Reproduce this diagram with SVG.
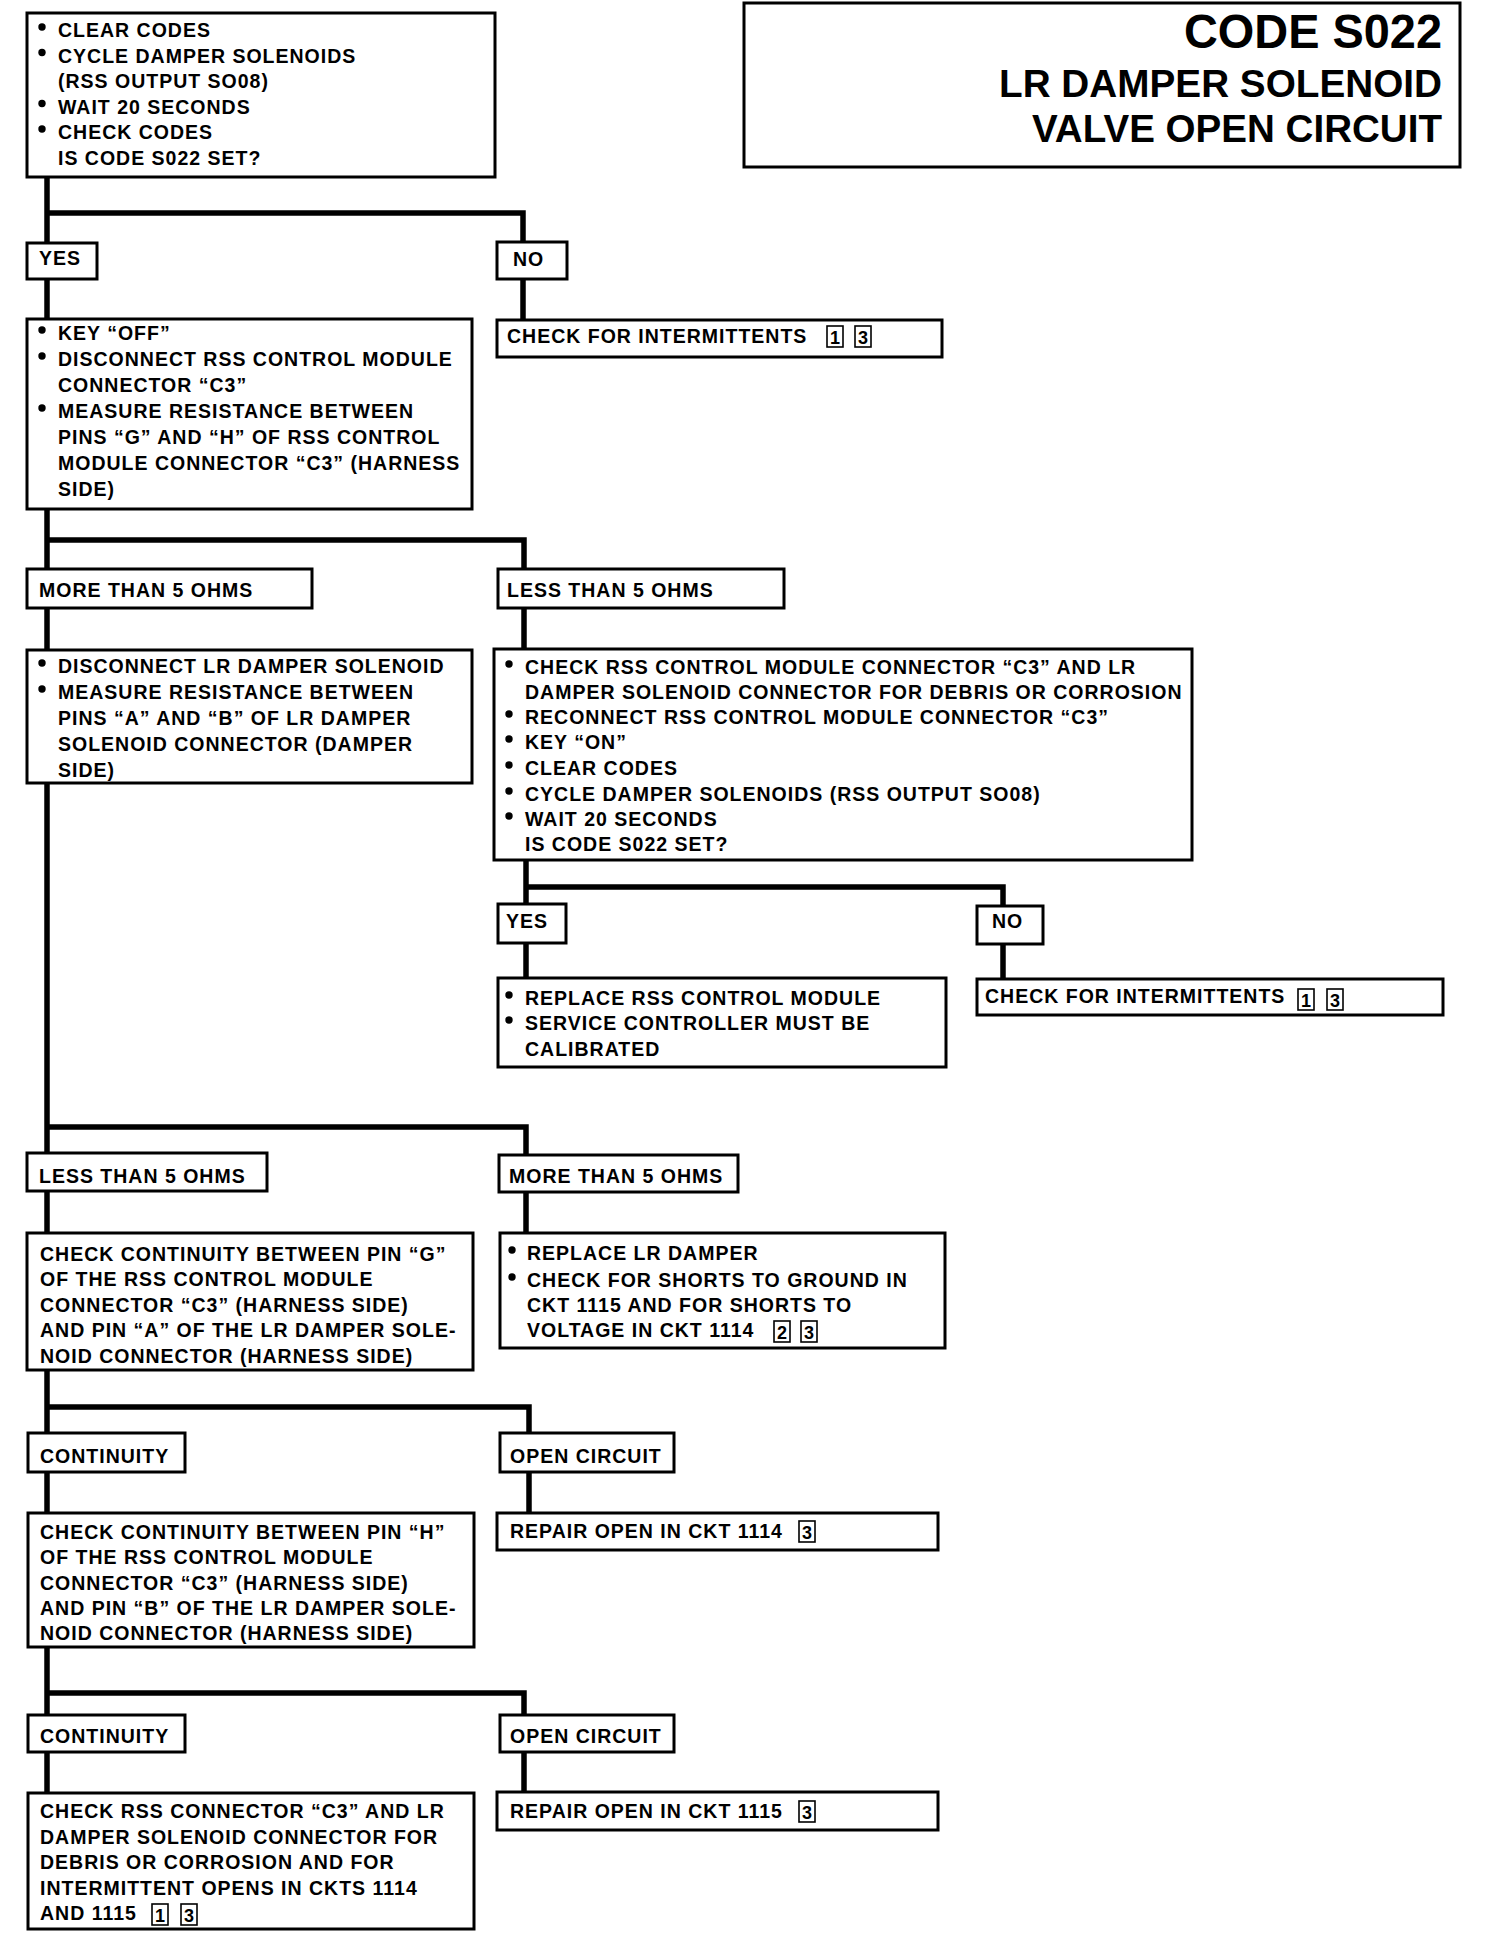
<svg xmlns="http://www.w3.org/2000/svg" width="1504" height="1954" viewBox="0 0 1504 1954">
<style>
.bg{fill:#fff}
.box{fill:#fff;stroke:#000;stroke-width:3}
.t{font-family:"Liberation Sans",Arial,sans-serif;font-weight:bold;font-size:19.5px;letter-spacing:1px;fill:#000}
.title{font-family:"Liberation Sans",Arial,sans-serif;font-weight:bold;fill:#000}
.ln{fill:none;stroke:#000;stroke-width:5.5;stroke-linejoin:miter;stroke-linecap:butt}
.dot{fill:#000}
.nb{fill:#fff;stroke:#000;stroke-width:1.6}
.nt{font-family:"Liberation Sans",Arial,sans-serif;font-weight:bold;font-size:18px;text-anchor:middle;fill:#000}
</style>
<rect class="bg" x="0" y="0" width="1504" height="1954"/>

<g id="connectors">
<path class="ln" d="M47,177 V1793"/>
<path class="ln" d="M47,213 H523 V320"/>
<path class="ln" d="M47,540 H524 V649"/>
<path class="ln" d="M526,860 V978"/>
<path class="ln" d="M526,887 H1003 V979"/>
<path class="ln" d="M47,1127 H526 V1233"/>
<path class="ln" d="M47,1407 H529 V1513"/>
<path class="ln" d="M47,1693 H524 V1792"/>
</g>

<g id="title">
<rect class="box" x="744" y="3" width="716" height="164"/>
<text class="title" x="1184" y="48" font-size="49" textLength="258" lengthAdjust="spacingAndGlyphs">CODE S022</text>
<text class="title" x="999" y="97" font-size="38" textLength="443" lengthAdjust="spacingAndGlyphs">LR DAMPER SOLENOID</text>
<text class="title" x="1032" y="142" font-size="38" textLength="410" lengthAdjust="spacingAndGlyphs">VALVE OPEN CIRCUIT</text>
</g>

<g id="n1">
<rect class="box" x="27" y="13" width="468" height="164"/>
<circle class="dot" cx="42" cy="27" r="3.7"/>
<text class="t" x="58" y="37">CLEAR CODES</text>
<circle class="dot" cx="42" cy="52.5" r="3.7"/>
<text class="t" x="58" y="62.5">CYCLE DAMPER SOLENOIDS</text>
<text class="t" x="58" y="88">(RSS OUTPUT SO08)</text>
<circle class="dot" cx="42" cy="103.5" r="3.7"/>
<text class="t" x="58" y="113.5">WAIT 20 SECONDS</text>
<circle class="dot" cx="42" cy="129" r="3.7"/>
<text class="t" x="58" y="139">CHECK CODES</text>
<text class="t" x="58" y="164.5">IS CODE S022 SET?</text>
</g>

<g id="yes1">
<rect class="box" x="27" y="243" width="70" height="36"/>
<text class="t" x="39" y="265">YES</text>
</g>
<g id="no1">
<rect class="box" x="497" y="242" width="70" height="37"/>
<text class="t" x="513" y="266">NO</text>
</g>

<g id="n2">
<rect class="box" x="27" y="319" width="445" height="190"/>
<circle class="dot" cx="42" cy="330" r="3.7"/>
<text class="t" x="58" y="340">KEY “OFF”</text>
<circle class="dot" cx="42" cy="356" r="3.7"/>
<text class="t" x="58" y="366">DISCONNECT RSS CONTROL MODULE</text>
<text class="t" x="58" y="392">CONNECTOR “C3”</text>
<circle class="dot" cx="42" cy="408" r="3.7"/>
<text class="t" x="58" y="418">MEASURE RESISTANCE BETWEEN</text>
<text class="t" x="58" y="444">PINS “G” AND “H” OF RSS CONTROL</text>
<text class="t" x="58" y="470">MODULE CONNECTOR “C3” (HARNESS</text>
<text class="t" x="58" y="496">SIDE)</text>
</g>

<g id="n3">
<rect class="box" x="497" y="320" width="445" height="37"/>
<text class="t" x="507" y="343">CHECK FOR INTERMITTENTS</text>
<rect class="nb" x="827" y="326" width="16" height="21"/>
<text class="nt" x="835" y="344">1</text>
<rect class="nb" x="855" y="326" width="16" height="21"/>
<text class="nt" x="863" y="344">3</text>
</g>

<g id="more1">
<rect class="box" x="27" y="569" width="285" height="39"/>
<text class="t" x="39" y="597">MORE THAN 5 OHMS</text>
</g>
<g id="less1">
<rect class="box" x="498" y="569" width="286" height="39"/>
<text class="t" x="507" y="597">LESS THAN 5 OHMS</text>
</g>

<g id="n4">
<rect class="box" x="27" y="650" width="445" height="133"/>
<circle class="dot" cx="42" cy="663" r="3.7"/>
<text class="t" x="58" y="673">DISCONNECT LR DAMPER SOLENOID</text>
<circle class="dot" cx="42" cy="689" r="3.7"/>
<text class="t" x="58" y="699">MEASURE RESISTANCE BETWEEN</text>
<text class="t" x="58" y="725">PINS “A” AND “B” OF LR DAMPER</text>
<text class="t" x="58" y="751">SOLENOID CONNECTOR (DAMPER</text>
<text class="t" x="58" y="777">SIDE)</text>
</g>

<g id="n5">
<rect class="box" x="494" y="649" width="698" height="211"/>
<circle class="dot" cx="509" cy="664" r="3.7"/>
<text class="t" x="525" y="674">CHECK RSS CONTROL MODULE CONNECTOR “C3” AND LR</text>
<text class="t" x="525" y="699">DAMPER SOLENOID CONNECTOR FOR DEBRIS OR CORROSION</text>
<circle class="dot" cx="509" cy="714" r="3.7"/>
<text class="t" x="525" y="724">RECONNECT RSS CONTROL MODULE CONNECTOR “C3”</text>
<circle class="dot" cx="509" cy="739" r="3.7"/>
<text class="t" x="525" y="749">KEY “ON”</text>
<circle class="dot" cx="509" cy="765" r="3.7"/>
<text class="t" x="525" y="775">CLEAR CODES</text>
<circle class="dot" cx="509" cy="791" r="3.7"/>
<text class="t" x="525" y="801">CYCLE DAMPER SOLENOIDS (RSS OUTPUT SO08)</text>
<circle class="dot" cx="509" cy="816" r="3.7"/>
<text class="t" x="525" y="826">WAIT 20 SECONDS</text>
<text class="t" x="525" y="851">IS CODE S022 SET?</text>
</g>

<g id="yes2">
<rect class="box" x="498" y="904" width="68" height="39"/>
<text class="t" x="506" y="928">YES</text>
</g>
<g id="no2">
<rect class="box" x="977" y="906" width="66" height="38"/>
<text class="t" x="992" y="928">NO</text>
</g>

<g id="n6">
<rect class="box" x="498" y="978" width="448" height="89"/>
<circle class="dot" cx="509" cy="995" r="3.7"/>
<text class="t" x="525" y="1005">REPLACE RSS CONTROL MODULE</text>
<circle class="dot" cx="509" cy="1020" r="3.7"/>
<text class="t" x="525" y="1030">SERVICE CONTROLLER MUST BE</text>
<text class="t" x="525" y="1056">CALIBRATED</text>
</g>

<g id="n7">
<rect class="box" x="977" y="979" width="466" height="36"/>
<text class="t" x="985" y="1003">CHECK FOR INTERMITTENTS</text>
<rect class="nb" x="1298" y="989" width="16" height="21"/>
<text class="nt" x="1306" y="1007">1</text>
<rect class="nb" x="1327" y="989" width="16" height="21"/>
<text class="nt" x="1335" y="1007">3</text>
</g>

<g id="less2">
<rect class="box" x="27" y="1153" width="240" height="38"/>
<text class="t" x="39" y="1183">LESS THAN 5 OHMS</text>
</g>
<g id="more2">
<rect class="box" x="499" y="1155" width="239" height="37"/>
<text class="t" x="509" y="1183">MORE THAN 5 OHMS</text>
</g>

<g id="n8">
<rect class="box" x="27" y="1233" width="446" height="137"/>
<text class="t" x="40" y="1261">CHECK CONTINUITY BETWEEN PIN “G”</text>
<text class="t" x="40" y="1286">OF THE RSS CONTROL MODULE</text>
<text class="t" x="40" y="1312">CONNECTOR “C3” (HARNESS SIDE)</text>
<text class="t" x="40" y="1337">AND PIN “A” OF THE LR DAMPER SOLE-</text>
<text class="t" x="40" y="1363">NOID CONNECTOR (HARNESS SIDE)</text>
</g>

<g id="n9">
<rect class="box" x="500" y="1233" width="445" height="115"/>
<circle class="dot" cx="512" cy="1250" r="3.7"/>
<text class="t" x="527" y="1260">REPLACE LR DAMPER</text>
<circle class="dot" cx="512" cy="1277" r="3.7"/>
<text class="t" x="527" y="1287">CHECK FOR SHORTS TO GROUND IN</text>
<text class="t" x="527" y="1312">CKT 1115 AND FOR SHORTS TO</text>
<text class="t" x="527" y="1337">VOLTAGE IN CKT 1114</text>
<rect class="nb" x="774" y="1321" width="16" height="21"/>
<text class="nt" x="782" y="1339">2</text>
<rect class="nb" x="801" y="1321" width="16" height="21"/>
<text class="nt" x="809" y="1339">3</text>
</g>

<g id="cont1">
<rect class="box" x="28" y="1433" width="157" height="39"/>
<text class="t" x="40" y="1463">CONTINUITY</text>
</g>
<g id="open1">
<rect class="box" x="500" y="1433" width="174" height="39"/>
<text class="t" x="510" y="1463">OPEN CIRCUIT</text>
</g>

<g id="n10">
<rect class="box" x="28" y="1513" width="446" height="134"/>
<text class="t" x="40" y="1539">CHECK CONTINUITY BETWEEN PIN “H”</text>
<text class="t" x="40" y="1564">OF THE RSS CONTROL MODULE</text>
<text class="t" x="40" y="1590">CONNECTOR “C3” (HARNESS SIDE)</text>
<text class="t" x="40" y="1615">AND PIN “B” OF THE LR DAMPER SOLE-</text>
<text class="t" x="40" y="1640">NOID CONNECTOR (HARNESS SIDE)</text>
</g>

<g id="n11">
<rect class="box" x="497" y="1513" width="441" height="37"/>
<text class="t" x="510" y="1538">REPAIR OPEN IN CKT 1114</text>
<rect class="nb" x="799" y="1521" width="16" height="21"/>
<text class="nt" x="807" y="1539">3</text>
</g>

<g id="cont2">
<rect class="box" x="28" y="1715" width="157" height="37"/>
<text class="t" x="40" y="1743">CONTINUITY</text>
</g>
<g id="open2">
<rect class="box" x="500" y="1715" width="174" height="37"/>
<text class="t" x="510" y="1743">OPEN CIRCUIT</text>
</g>

<g id="n12">
<rect class="box" x="28" y="1793" width="446" height="136"/>
<text class="t" x="40" y="1818">CHECK RSS CONNECTOR “C3” AND LR</text>
<text class="t" x="40" y="1844">DAMPER SOLENOID CONNECTOR FOR</text>
<text class="t" x="40" y="1869">DEBRIS OR CORROSION AND FOR</text>
<text class="t" x="40" y="1895">INTERMITTENT OPENS IN CKTS 1114</text>
<text class="t" x="40" y="1920">AND 1115</text>
<rect class="nb" x="152" y="1904" width="16" height="21"/>
<text class="nt" x="160" y="1922">1</text>
<rect class="nb" x="181" y="1904" width="16" height="21"/>
<text class="nt" x="189" y="1922">3</text>
</g>

<g id="n13">
<rect class="box" x="497" y="1792" width="441" height="38"/>
<text class="t" x="510" y="1818">REPAIR OPEN IN CKT 1115</text>
<rect class="nb" x="799" y="1801" width="16" height="21"/>
<text class="nt" x="807" y="1819">3</text>
</g>
</svg>
